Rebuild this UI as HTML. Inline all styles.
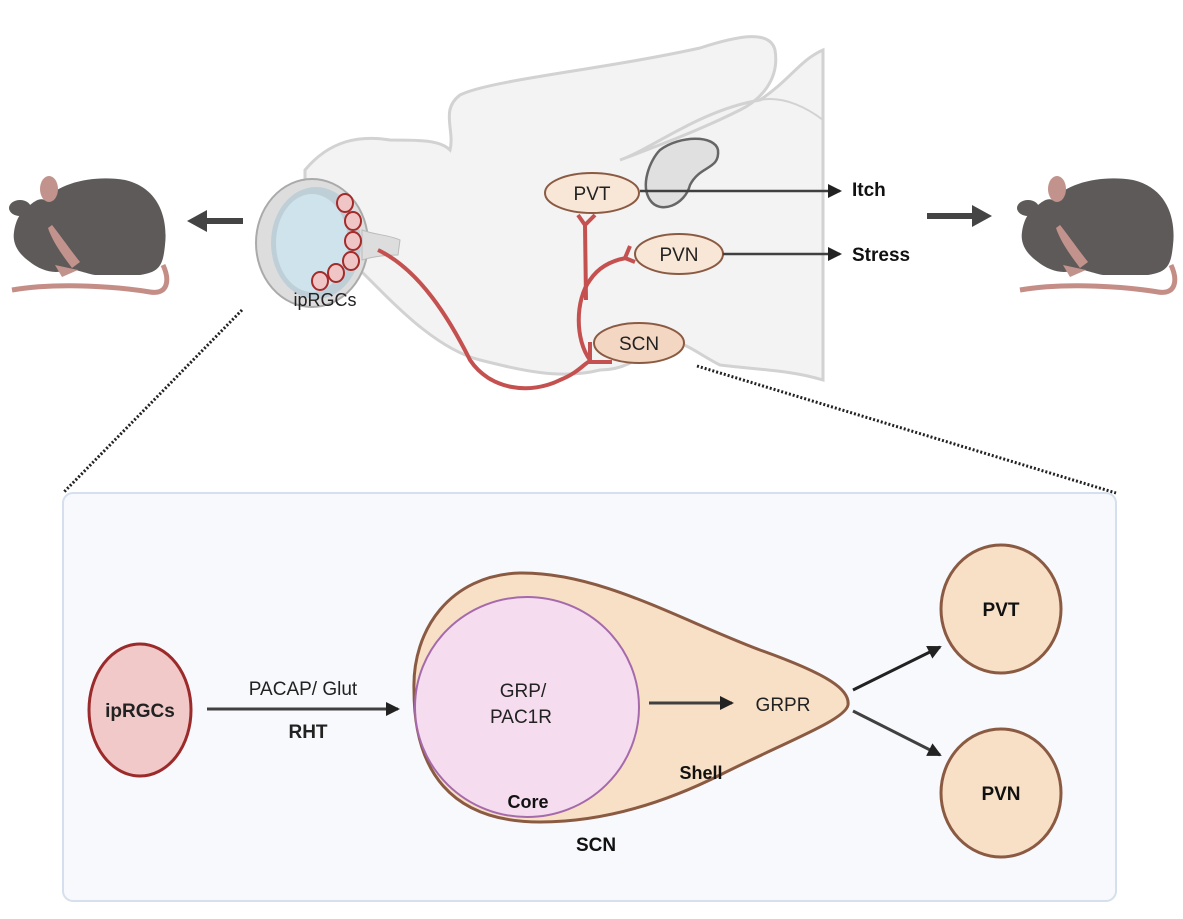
<!DOCTYPE html>
<html><head><meta charset="utf-8"><style>
html,body{margin:0;padding:0;background:#fff}
svg{display:block}
text{font-family:"Liberation Sans",sans-serif}
</style></head><body>
<svg width="1183" height="919" viewBox="0 0 1183 919" xmlns="http://www.w3.org/2000/svg">
<defs>
<marker id="ah2" markerWidth="14" markerHeight="14" refX="12" refY="7" orient="auto" markerUnits="userSpaceOnUse"><path d="M0,0 L14,7 L0,14 Z" fill="#222"/></marker>
</defs>
<!-- brain -->
<path d="M305,170 C330,140 360,135 390,140 C420,140 440,140 450,150 C455,130 440,110 460,95 C490,80 600,70 700,48 C740,35 770,30 775,50 C780,80 760,100 740,110 C700,130 660,145 620,160 C650,150 700,110 760,100 C790,80 800,60 823,50 L823,380 C790,370 760,370 720,365 C700,355 690,345 670,340 C650,340 640,370 600,370 C560,380 520,370 480,360 C440,350 400,310 380,290 C360,270 330,240 305,215 Z" fill="#f3f3f3" stroke="#d2d2d2" stroke-width="3"/>
<path d="M760,100 C785,95 810,110 823,120" fill="none" stroke="#d2d2d2" stroke-width="2"/>
<path d="M660,150 C680,135 715,135 718,150 C720,170 700,165 690,185 C685,205 660,215 650,200 C640,185 650,160 660,150 Z" fill="#e0e0e0" stroke="#666" stroke-width="2.5"/>
<!-- eye -->
<ellipse cx="312" cy="243" rx="56" ry="64" fill="#ddd" stroke="#aaa" stroke-width="2"/>
<ellipse cx="316" cy="243" rx="45" ry="56" fill="#bfcfd8"/>
<ellipse cx="312" cy="243" rx="36" ry="49" fill="#cfe3ec"/>
<path d="M362,230 C375,235 390,235 400,240 L398,255 C385,255 372,257 362,260 Z" fill="#ddd" stroke="#bbb"/>
<g fill="#f0c5c5" stroke="#a52a2a" stroke-width="2">
<ellipse cx="345" cy="203" rx="8" ry="9"/><ellipse cx="353" cy="221" rx="8" ry="9"/><ellipse cx="353" cy="241" rx="8" ry="9"/><ellipse cx="351" cy="261" rx="8" ry="9"/><ellipse cx="336" cy="273" rx="8" ry="9"/><ellipse cx="320" cy="281" rx="8" ry="9"/>
</g>
<text x="325" y="306" font-size="18" text-anchor="middle" fill="#222">ipRGCs</text>
<!-- red pathway -->
<g fill="none" stroke="#c4514f" stroke-width="4">
<path d="M378,250 C420,270 450,320 470,360 C490,390 530,395 560,380 C580,372 585,362 592,360"/>
<path d="M590,342 L590,362 L612,362"/>
<path d="M590,360 C575,340 575,300 590,280 C600,265 615,260 626,258"/>
<path d="M586,300 L585,225"/>
<path d="M578,215 L585,225 L595,215"/>
<path d="M630,246 L625,258 L635,262"/>
</g>
<ellipse cx="592" cy="193" rx="47" ry="20" fill="#f8e6d6" stroke="#8b5a42" stroke-width="2"/>
<text x="592" y="200" font-size="19" text-anchor="middle" fill="#222">PVT</text>
<ellipse cx="679" cy="254" rx="44" ry="20" fill="#f8e6d6" stroke="#8b5a42" stroke-width="2"/>
<text x="679" y="261" font-size="19" text-anchor="middle" fill="#222">PVN</text>
<ellipse cx="639" cy="343" rx="45" ry="20" fill="#f4d7c3" stroke="#8b5a42" stroke-width="2"/>
<text x="639" y="350" font-size="19" text-anchor="middle" fill="#222">SCN</text>
<line x1="640" y1="191" x2="840" y2="191" stroke="#404040" stroke-width="2.5" marker-end="url(#ah2)"/>
<line x1="723" y1="254" x2="840" y2="254" stroke="#404040" stroke-width="2.5" marker-end="url(#ah2)"/>
<text x="852" y="196" font-size="19" font-weight="bold" fill="#111">Itch</text>
<text x="852" y="261" font-size="19" font-weight="bold" fill="#111">Stress</text>
<line x1="927" y1="216" x2="975" y2="216" stroke="#444" stroke-width="6"/><path d="M972,205 L992,216 L972,227 Z" fill="#444"/>
<line x1="243" y1="221" x2="205" y2="221" stroke="#444" stroke-width="6"/><path d="M207,210 L187,221 L207,232 Z" fill="#444"/>
<!-- mice -->
<g id="mouse">
<path d="M12,290 C60,282 120,287 150,292 C168,295 170,280 163,265" fill="none" stroke="#c48d86" stroke-width="5"/>
<path d="M45,200 C60,182 95,175 125,180 C160,188 168,220 165,245 C163,265 160,272 140,275 L95,275 C80,272 75,268 65,270 C55,275 40,270 30,262 C20,255 12,245 14,232 C16,218 22,210 30,205 C36,200 40,198 45,200 Z" fill="#5e5a59"/>
<ellipse cx="20" cy="208" rx="11" ry="8" fill="#5e5a59"/>
<ellipse cx="49" cy="189" rx="9" ry="13" fill="#c2938c"/>
<path d="M52,225 C60,235 72,252 80,262 L72,268 C60,252 52,240 48,228 Z" fill="#c2938c"/>
<path d="M55,265 L78,270 L62,277 Z" fill="#c2938c"/>
</g>
<use href="#mouse" x="1008" y="0"/>
<!-- dotted -->
<line x1="242" y1="310" x2="63" y2="493" stroke="#222" stroke-width="3" stroke-dasharray="2,2"/>
<line x1="697" y1="366" x2="1116" y2="493" stroke="#222" stroke-width="3" stroke-dasharray="2,2"/>
<!-- bottom panel -->
<rect x="63" y="493" width="1053" height="408" rx="10" fill="#f7f9fc" stroke="#d6dfed" stroke-width="2"/>
<ellipse cx="140" cy="710" rx="51" ry="66" fill="#f2c9c9" stroke="#9b2a2a" stroke-width="3"/>
<text x="140" y="717" font-size="19" font-weight="bold" text-anchor="middle" fill="#222">ipRGCs</text>
<line x1="207" y1="709" x2="398" y2="709" stroke="#404040" stroke-width="3" marker-end="url(#ah2)"/>
<text x="303" y="695" font-size="19" text-anchor="middle" fill="#222">PACAP/ Glut</text>
<text x="308" y="738" font-size="19" font-weight="bold" text-anchor="middle" fill="#222">RHT</text>
<path d="M414,690 C412,630 450,575 520,573 C600,572 680,620 760,650 C830,675 850,690 848,705 C845,720 790,740 720,775 C660,805 600,822 540,822 C450,822 414,770 414,690 Z" fill="#f8e0c7" stroke="#8b5a42" stroke-width="3"/>
<ellipse cx="527" cy="707" rx="112" ry="110" fill="#f5dcef" stroke="#a56aab" stroke-width="2"/>
<text x="523" y="697" font-size="19" text-anchor="middle" fill="#222">GRP/</text>
<text x="521" y="723" font-size="19" text-anchor="middle" fill="#222">PAC1R</text>
<text x="528" y="808" font-size="18" font-weight="bold" text-anchor="middle" fill="#111">Core</text>
<line x1="649" y1="703" x2="732" y2="703" stroke="#404040" stroke-width="3" marker-end="url(#ah2)"/>
<text x="783" y="711" font-size="19" text-anchor="middle" fill="#222">GRPR</text>
<text x="701" y="779" font-size="18" font-weight="bold" text-anchor="middle" fill="#111">Shell</text>
<text x="596" y="851" font-size="19" font-weight="bold" text-anchor="middle" fill="#111">SCN</text>
<line x1="853" y1="690" x2="940" y2="647" stroke="#222" stroke-width="3" marker-end="url(#ah2)"/>
<line x1="853" y1="711" x2="940" y2="755" stroke="#404040" stroke-width="3" marker-end="url(#ah2)"/>
<ellipse cx="1001" cy="609" rx="60" ry="64" fill="#f8e0c7" stroke="#8b5a42" stroke-width="3"/>
<text x="1001" y="616" font-size="19" font-weight="bold" text-anchor="middle" fill="#111">PVT</text>
<ellipse cx="1001" cy="793" rx="60" ry="64" fill="#f8e0c7" stroke="#8b5a42" stroke-width="3"/>
<text x="1001" y="800" font-size="19" font-weight="bold" text-anchor="middle" fill="#111">PVN</text>
</svg>
</body></html>
